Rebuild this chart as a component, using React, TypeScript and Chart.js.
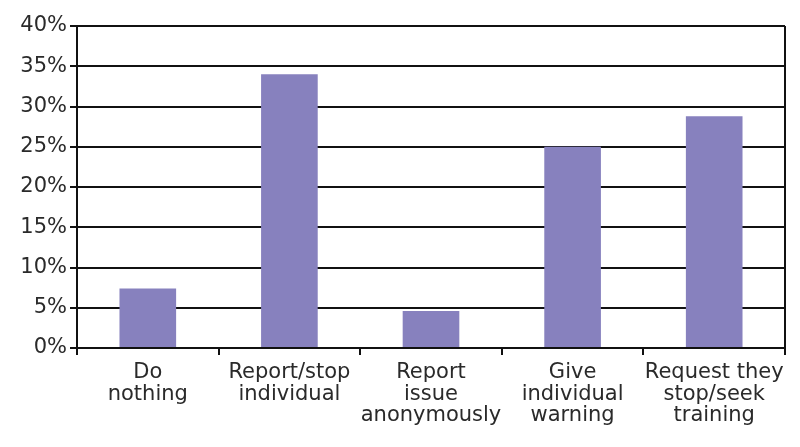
import React, { useEffect, useRef } from "react";
import { Chart, registerables } from "chart.js";

Chart.register(...registerables);

const categories: string[][] = [
  ["Do", "nothing"],
  ["Report/stop", "individual"],
  ["Report", "issue", "anonymously"],
  ["Give", "individual", "warning"],
  ["Request they", "stop/seek", "training"],
];
const values: number[] = [7.4, 34.0, 4.6, 25.0, 28.8];
const yTicks: number[] = [0, 5, 10, 15, 20, 25, 30, 35, 40];

const frameBorder = {
  id: "frameBorder",
  afterDraw(chart: any) {
    const { ctx, chartArea } = chart;
    ctx.save();
    ctx.strokeStyle = "#111";
    ctx.lineWidth = 2;
    ctx.beginPath();
    ctx.moveTo(chartArea.right, chartArea.top);
    ctx.lineTo(chartArea.right, chartArea.bottom + 6);
    ctx.stroke();
    ctx.restore();
  },
};

const FONT = "'DejaVu Sans', Verdana, sans-serif";

export default function App() {
  const ref = useRef<HTMLCanvasElement>(null);
  useEffect(() => {
    if (!ref.current) return;
    const chart = new Chart(ref.current, {
      type: "bar",
      data: {
        labels: categories,
        datasets: [
          {
            data: values,
            backgroundColor: "#8781be",
            barPercentage: 0.4,
            categoryPercentage: 1,
          },
        ],
      },
      options: {
        animation: false,
        responsive: true,
        maintainAspectRatio: false,
        layout: { padding: { left: 0, right: 15, top: 26, bottom: 0 } },
        plugins: { legend: { display: false }, tooltip: { enabled: false } },
        scales: {
          x: {
            offset: true,
            grid: {
              offset: true,
              drawOnChartArea: false,
              drawTicks: true,
              tickLength: 7,
              color: "#111",
              lineWidth: 2,
            },
            border: { display: true, color: "#111", width: 2 },
            ticks: {
              color: "#2a2a2a",
              font: { family: FONT, size: 21, lineHeight: 1.02 },
              padding: 7,
              maxRotation: 0,
              autoSkip: false,
            },
            afterFit: (s: any) => {
              s.height = 99;
            },
          },
          y: {
            min: 0,
            max: 40,
            afterBuildTicks: (s: any) => {
              s.ticks = yTicks.map((v) => ({ value: v }));
            },
            grid: {
              color: "#111",
              lineWidth: 2,
              tickLength: 7,
            },
            border: { display: true, color: "#111", width: 2 },
            ticks: {
              color: "#2a2a2a",
              font: { family: FONT, size: 21 },
              padding: 3,
              callback: (v: any) => v + "%",
            },
            afterFit: (s: any) => {
              s.width = 77;
            },
          },
        },
      },
      plugins: [frameBorder],
    });
    return () => chart.destroy();
  }, []);
  return (
    <div style={{ position: "fixed", left: 0, top: 0, width: 800, height: 447, background: "#fff" }}>
      <canvas ref={ref} />
    </div>
  );
}
